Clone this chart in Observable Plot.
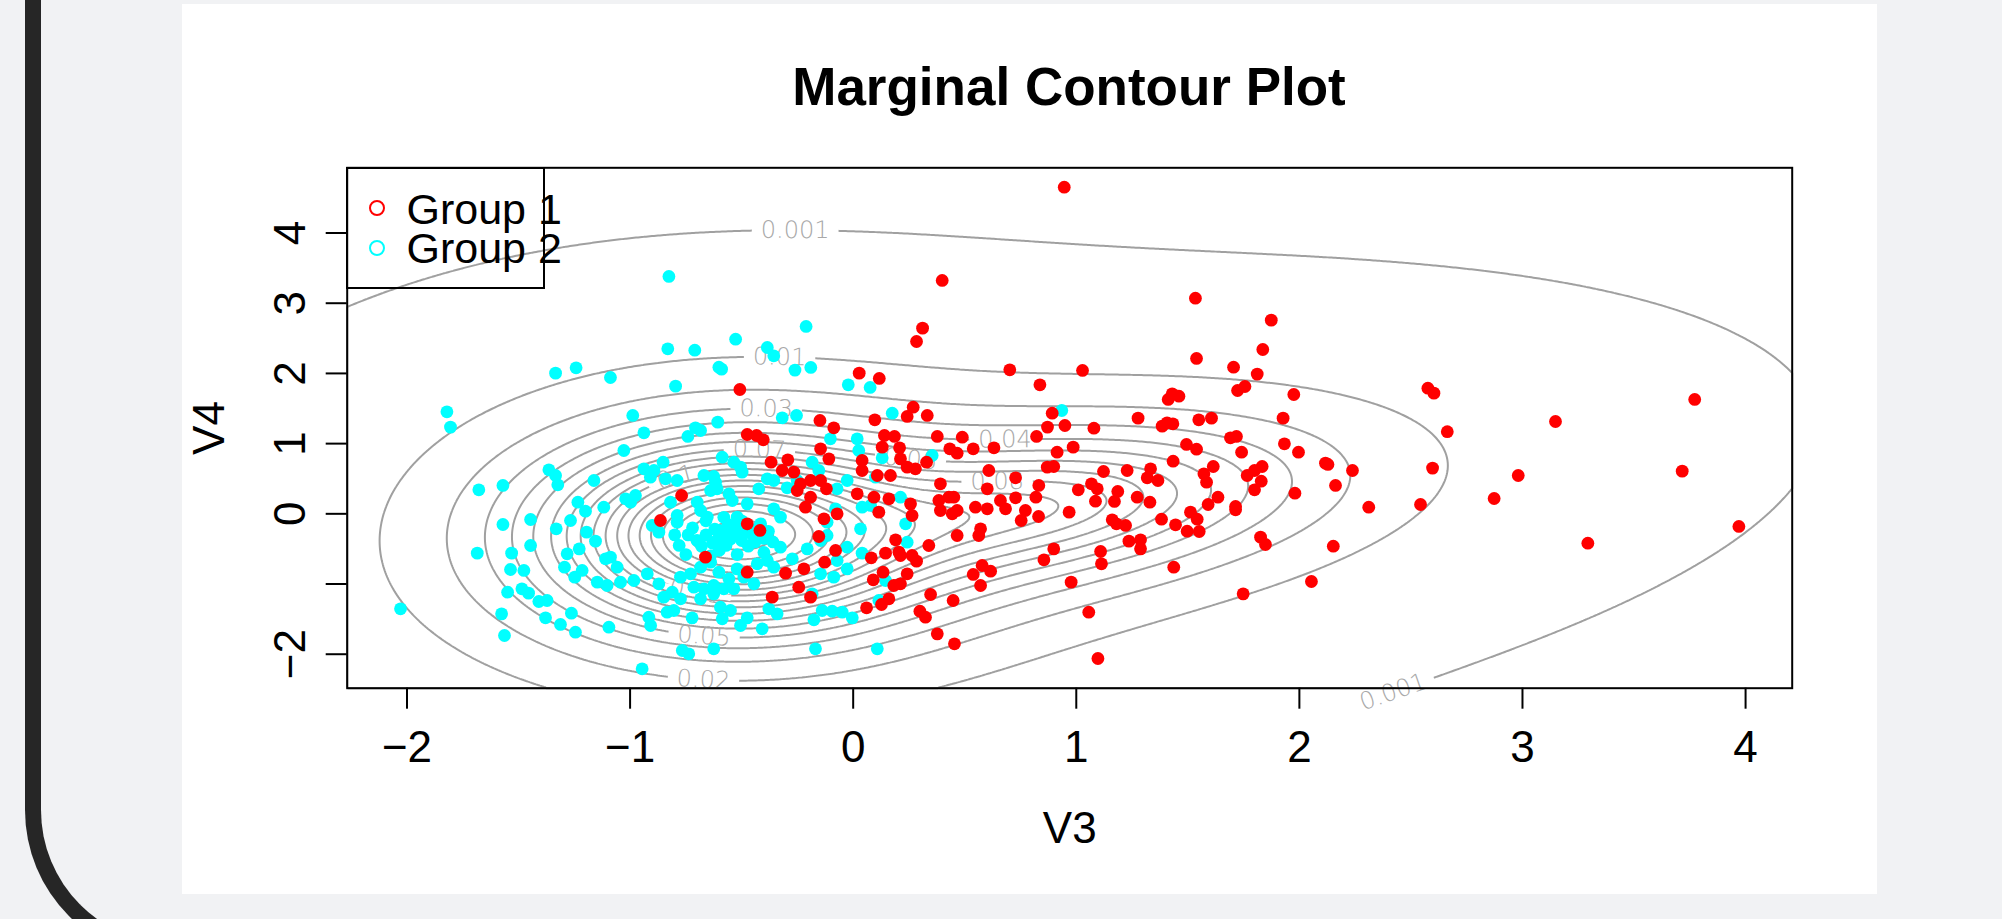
<!DOCTYPE html>
<html>
<head>
<meta charset="utf-8">
<script src="https://cdn.jsdelivr.net/npm/d3@7"></script>
<script src="https://cdn.jsdelivr.net/npm/@observablehq/plot@0.6"></script>
<style>
  html, body { margin:0; padding:0; }
  body { width:2002px; height:919px; background:#f1f2f4; position:relative; overflow:hidden; font-family:"Liberation Sans", Arial, Helvetica, sans-serif; }
  #border { position:absolute; left:25px; top:-200px; width:700px; height:1160px; border-left:16px solid #262626; border-bottom:16px solid #262626; border-bottom-left-radius:150px; box-sizing:border-box; }
  #card { position:absolute; left:182px; top:4px; width:1695px; height:890px; background:#fff; }
  #chart { position:absolute; left:182px; top:4px; }
  #title { position:absolute; left:1069px; top:60px; transform:translateX(-50%); font-size:53px; line-height:53px; font-weight:bold; white-space:nowrap; color:#000; }
  #legbox { position:absolute; left:346px; top:166.5px; width:198.5px; height:122px; border:2px solid #000; box-sizing:border-box; }
  .legdot { position:absolute; width:12px; height:12px; border-radius:50%; border:2px solid; }
  .legtxt { position:absolute; font-size:43px; line-height:36px; height:36px; white-space:nowrap; color:#000; }
</style>
</head>
<body>
<div id="border"></div>
<div id="card"></div>
<div id="chart"></div>
<div id="title">Marginal Contour Plot</div>
<div id="legbox"></div>
<div class="legdot" style="left:368.7px;top:199.7px;border-color:#FF0000"></div>
<div class="legdot" style="left:368.7px;top:240.3px;border-color:#00FFFF"></div>
<div class="legtxt" style="left:406.5px;top:190.5px">Group 1</div>
<div class="legtxt" style="left:406.5px;top:229.5px">Group 2</div>
<script>
// ---------------- data ----------------
const xTicks = [-2, -1, 0, 1, 2, 3, 4];
const xTickLabels = ["−2", "−1", "0", "1", "2", "3", "4"];
const yTicks = [-2, -1, 0, 1, 2, 3, 4];
const yTickLabels = ["−2", "", "0", "1", "2", "3", "4"];
const xDomain = [-2.268, 4.209];
const yDomain = [-2.484, 4.929];

const contourLevels = [0.001, 0.01, 0.02, 0.03, 0.04, 0.05, 0.06, 0.07, 0.08, 0.09, 0.1,
  0.11, 0.12, 0.13, 0.14, 0.15, 0.16, 0.17, 0.18, 0.19, 0.2, 0.21, 0.22, 0.23, 0.24, 0.25];

// fitted two-component t mixture (group 1 = red, group 2 = cyan)
const compWeight = [0.39, 0.61];
const compMeanX = [0.85, -0.55];
const compMeanY = [0.10, -0.30];
const compScaleX = [0.91, 0.60];
const compScaleY = [0.90, 0.97];
const compRho = [0.33, 0.0];
const compDf = [3, 4];

const labelLevel = [0.001, 0.001, 0.01, 0.02, 0.03, 0.04, 0.05, 0.06, 0.07, 0.08, 0.1, 0.11];
const labelHintX = [-0.26, 2.39, -0.33, -0.67, -0.39, 0.68, -0.67, 0.26, -0.42, 0.645, -0.80, -0.71];
const labelHintY = [3.99, -2.27, 2.21, -2.30, 1.50, 1.13, -1.80, 0.90, 0.94, 0.50, 0.57, -1.19];

const group1X = [-0.508,
 0.946,0.399,0.311,0.284,0.027,0.117,0.702,1.028,0.837,1.534,1.539,1.874,1.836,1.705,1.811,1.723,1.756,1.975,1.412,1.430,1.460,1.277,1.549,1.606,1.927,1.385,1.407,1.433,0.892,0.871,0.949,1.079,
 2.576,2.603,3.772,3.148,2.663,
 2.117,2.128,2.238,2.162,2.311,2.597,2.543,2.152,2.981,2.873,3.716,3.293,3.970,
 0.822,0.986,0.914,1.122,0.870,0.899,1.228,1.333,1.318,1.366,1.434,1.494,1.539,1.691,1.718,1.741,1.933,1.996,1.572,1.614,1.584,1.766,1.799,1.833,1.829,1.799,1.980,1.714,1.714,1.635,1.591,1.512,1.542,1.497,1.551,1.382,1.445,1.330,1.273,1.186,1.171,1.161,1.180,1.221,1.236,1.288,1.288,1.109,1.113,1.009,1.068,1.094,1.086,0.968,0.899,0.855,0.977,1.437,1.056,1.097,1.748,1.826,1.848,2.054,0.832,0.819,0.831,0.728,0.728,0.772,0.753,
 -0.475,-0.433,-0.403,-0.368,-0.293,-0.318,-0.266,-0.236,-0.251,-0.769,-0.864,-0.475,-0.418,
 -0.662,-0.475,-0.303,-0.244,-0.363,
 0.269,0.242,0.332,0.097,-0.149,-0.087,0.140,0.185,0.377,0.489,-0.146,0.130,0.208,0.433,0.466,0.538,0.631,0.212,0.242,0.279,0.329,0.040,0.040,-0.109,0.108,0.167,-0.146,-0.191,0.391,-0.120,0.018,-0.191,-0.214,0.093,0.160,0.115,0.257,0.264,0.384,0.391,0.429,0.451,0.466,0.444,0.548,0.601,0.571,0.660,0.683,-0.072,-0.131,0.608,0.601,
 -0.154,0.190,0.264,0.284,0.205,0.212,0.145,0.081,0.339,0.466,0.563,-0.128,-0.079,-0.221,0.134,0.090,0.242,0.182,0.212,0.160,0.127,0.060,-0.191,0.347,0.299,0.324,0.377,0.454,0.448,0.578,0.616,0.538,0.571];
const group1Y = [1.771,
 4.653,3.324,2.645,2.455,2.004,1.928,2.051,2.042,1.838,3.072,2.213,2.759,2.341,2.089,1.990,1.757,1.814,1.700,1.629,1.709,1.676,1.363,1.339,1.363,1.363,1.249,1.296,1.282,1.434,1.235,1.258,1.220,
 1.790,1.719,1.629,1.315,1.170,
 0.722,0.703,0.617,0.404,0.095,0.651,0.133,-0.461,0.546,0.218,0.608,-0.418,-0.180,
 1.102,0.950,0.878,0.603,0.665,0.674,0.617,0.641,0.513,0.475,0.750,0.988,0.921,1.083,1.102,0.878,0.997,0.878,0.570,0.674,0.451,0.546,0.617,0.674,0.465,0.342,0.294,0.104,0.057,0.237,0.133,0.024,-0.076,-0.247,-0.252,-0.076,-0.157,0.166,0.237,0.318,0.176,-0.085,-0.142,-0.166,-0.389,-0.370,-0.499,-0.537,-0.712,0.342,0.427,0.356,0.180,0.024,-0.499,-0.655,-0.973,-0.760,-1.401,-2.061,-1.140,-0.332,-0.437,-0.964,0.404,0.237,-0.038,0.228,0.513,0.047,-0.095,
 1.130,1.116,1.054,0.736,0.769,0.617,0.594,0.427,0.332,0.261,-0.095,-0.142,-0.237,
 -0.617,-0.831,-0.845,-1.045,-1.187,
 1.519,1.387,1.401,1.339,1.330,1.225,1.116,1.102,1.102,1.092,0.926,0.950,0.940,0.926,0.864,0.926,0.940,0.783,0.665,0.641,0.736,0.760,0.617,0.783,0.546,0.546,0.475,0.475,0.427,0.356,0.285,0.237,0.095,0.237,0.214,0.024,0.142,-0.024,0.190,0.047,0.237,0.237,0.047,0.000,0.095,0.071,-0.214,0.190,0.071,0.000,-0.071,0.617,0.356,
 -0.323,-0.370,-0.594,-0.674,-0.546,-0.594,-0.560,-0.627,-0.451,-0.309,-0.309,-0.689,-0.522,-0.783,-0.831,-0.940,-0.855,-1.021,-0.997,-1.211,-1.292,-1.339,-1.187,-1.149,-1.387,-1.472,-1.710,-1.852,-1.235,-0.736,-0.817,-0.864,-1.021];

const group2X = [-0.826,-0.211,-0.527,-0.831,-0.710,-0.385,-0.356,-0.602,-0.590,-0.261,-0.190,-1.334,-1.242,-1.088,-0.796,-1.821,-1.805,
 -0.022,0.076,0.935,
 -2.029,-1.678,-1.570,-1.570,-1.446,-1.685,-1.531,-1.536,-1.476,-1.446,-1.549,-1.485,-1.455,-1.576,-1.563,-1.409,-1.372,-1.379,-1.312,-1.263,-1.245,-1.364,-1.334,-1.324,-1.331,-1.282,-1.294,-1.248,-1.215,-1.234,-1.200,-1.267,-1.195,-1.228,-1.155,-1.162,-1.147,
 -0.938,-1.028,-0.707,-0.684,-0.741,-0.607,-0.318,-0.254,-0.988,-0.852,-0.938,-0.909,-0.893,-0.841,-0.789,-0.587,-0.535,-0.505,-0.498,-0.669,-0.625,-0.617,-0.639,-0.610,-1.020,-0.998,-0.976,-0.819,-0.699,-0.557,-0.542,-0.423,-0.385,-0.356,-0.296,-0.251,-0.475,-0.684,-0.654,-0.789,-0.901,-0.871,-0.520,-0.415,-0.326,-0.356,-1.118,-0.602,-0.565,-0.535,-0.789,
 -1.110,-1.088,-1.058,-1.103,-1.043,-0.983,-0.923,-0.871,-0.849,-0.811,-0.774,-0.729,-0.684,-0.639,-0.602,-0.557,-0.520,-0.490,-0.430,-0.385,-0.356,-0.445,-0.535,-0.625,-0.669,-0.714,-0.774,-0.684,-0.625,-0.580,-0.595,-0.550,-0.834,-0.804,-0.916,-0.908,-0.722,-0.587,-0.505,-0.475,-0.408,-1.095,-0.766,-0.737,-0.625,-0.946,-0.326,-0.273,-0.378,-0.341,
 -0.62,-0.58,-0.53,-0.49,-0.45,-0.66,-0.60,-0.55,-0.50,-0.44,-0.70,-0.63,-0.57,-0.52,-0.47,-0.40,-0.68,-0.74,-0.38,-0.60,
 -0.78,-0.72,-0.66,-0.58,-0.50,-0.42,-0.36,-0.40,-0.52,-0.64,-0.75,-0.80,-0.56,-0.46,-0.62,
 0.175,-0.102,0.018,0.354,0.130,0.025,-0.184,-0.154,-0.027,-0.072,0.100,0.212,0.040,0.078,-0.079,-0.117,0.033,0.235,
 -0.117,-0.146,-0.206,-0.146,-0.087,-0.072,-0.027,-0.027,0.040,-0.184,-0.139,-0.094,-0.049,-0.004,-0.176,-0.169,0.108,0.115,0.145,0.242];
const group2Y = [3.381,2.669,2.488,2.350,2.331,2.369,2.251,2.089,2.061,2.047,2.085,2.004,2.080,1.942,1.819,1.453,1.235,
 1.838,1.800,1.472,
 -1.353,0.342,0.404,-0.152,-0.081,-0.560,-0.560,-0.793,-0.807,-0.451,-1.116,-1.068,-1.130,-1.425,-1.733,-1.249,-1.235,-1.481,-1.576,-1.415,-1.686,0.627,0.546,0.413,-0.214,-0.570,-0.760,-0.902,-0.807,0.166,0.038,-0.095,-0.261,-0.499,-0.389,0.475,-0.973,
 1.154,0.902,1.225,1.187,1.102,1.306,1.368,1.401,1.401,0.736,0.641,0.522,0.617,0.499,0.475,0.807,0.736,0.665,0.594,0.546,0.532,0.451,0.332,0.356,0.214,0.166,0.261,0.166,0.166,0.285,0.190,0.356,0.499,0.475,0.370,0.475,0.142,0.047,-0.047,-0.024,-0.166,-0.261,-0.047,-0.142,-0.047,0.071,0.095,-0.237,-0.285,-0.214,-0.119,
 -0.641,-0.617,-0.760,-1.021,-0.974,-0.950,-0.855,-0.997,-1.187,-1.116,-0.902,-0.855,-0.760,-0.689,-0.831,-0.926,-0.784,-0.902,-0.712,-0.665,-0.760,-0.997,-1.068,-1.021,-1.068,-1.045,-1.211,-1.211,-1.140,-1.068,-1.330,-1.377,-1.401,-1.377,-1.472,-1.591,-1.482,-1.496,-1.591,-1.482,-1.638,-1.615,-1.947,-1.994,-1.923,-2.208,-0.475,-0.641,-1.353,-1.425,
 -0.22,-0.25,-0.20,-0.27,-0.31,-0.30,-0.33,-0.36,-0.38,-0.40,-0.38,-0.42,-0.45,-0.30,-0.46,-0.35,-0.46,-0.30,-0.25,-0.52,
 -0.45,-0.20,-0.10,-0.05,-0.10,-0.18,-0.40,-0.55,-0.58,-0.60,-0.58,-0.30,-0.15,-0.22,-0.40,
 1.434,1.068,1.068,0.831,0.798,0.902,0.736,0.617,0.475,0.356,0.522,0.237,0.095,0.119,0.071,-0.119,-0.214,-0.142,
 -0.309,-0.380,-0.499,-0.855,-0.902,-0.665,-0.784,-0.475,-0.560,-1.140,-1.377,-1.387,-1.401,-1.482,-1.510,-1.923,-1.923,-1.235,-0.950,-0.404];

// ---------------- layout ----------------
const W = 1695, H = 890;
const mL = 164.7, mR = 85.3, mT = 163.3, mB = 206.3;
const kx = (W - mL - mR) / (xDomain[1] - xDomain[0]);
const ky = (H - mT - mB) / (yDomain[1] - yDomain[0]);

// ---------------- model density ----------------
function density(x, y) {
  let s = 0;
  for (let k = 0; k < compWeight.length; k++) {
    const zx = (x - compMeanX[k]) / compScaleX[k];
    const zy = (y - compMeanY[k]) / compScaleY[k];
    const r = compRho[k], nu = compDf[k];
    const q = (zx * zx - 2 * r * zx * zy + zy * zy) / (1 - r * r);
    const det = compScaleX[k] * compScaleY[k] * Math.sqrt(1 - r * r);
    s += compWeight[k] / (2 * Math.PI * det) * Math.pow(1 + q / nu, -(nu + 2) / 2);
  }
  return s;
}

// place contour labels on the contour lines (projection in pixel metric)
const labelFont = 24;
const labels = labelLevel.map((L, i) => {
  let x = labelHintX[i], y = labelHintY[i];
  const h = 1e-4;
  let gx = 0, gy = 0;
  for (let it = 0; it < 40; it++) {
    const f = density(x, y) - L;
    gx = (density(x + h, y) - density(x - h, y)) / (2 * h);
    gy = (density(x, y + h) - density(x, y - h)) / (2 * h);
    const gu = gx / kx, gv = gy / ky;
    const G = gu * gu + gv * gv;
    if (G === 0) break;
    let du = -f * gu / G, dv = -f * gv / G;
    const m = Math.hypot(du, dv);
    if (m > 8) { du *= 8 / m; dv *= 8 / m; }
    x += du / kx; y += dv / ky;
    if (Math.abs(f) < 1e-7) break;
  }
  let ang = Math.atan2(-gx * ky, -gy * kx) * 180 / Math.PI;
  if (ang > 90) ang -= 180;
  if (ang < -90) ang += 180;
  const text = String(L);
  const digits = text.replace(".", "").length;
  const wPx = (digits * 0.636 + 0.318) * labelFont;
  const half = wPx / 2 + 9;
  const c = Math.cos(ang * Math.PI / 180), s = Math.sin(ang * Math.PI / 180);
  return {x, y, text, ang,
    x1: x - half * c / kx, y1: y + half * s / ky,
    x2: x + half * c / kx, y2: y - half * s / ky};
});

const pts1 = group1X.map((x, i) => ({x, y: group1Y[i]}));
const pts2 = group2X.map((x, i) => ({x, y: group2Y[i]}));
const xt = xTicks.map((v, i) => ({v, t: xTickLabels[i]}));
const yt = yTicks.map((v, i) => ({v, t: yTickLabels[i]}));

const chart = Plot.plot({
  width: W, height: H,
  marginLeft: mL, marginRight: mR, marginTop: mT, marginBottom: mB,
  x: {domain: xDomain},
  y: {domain: yDomain},
  style: {background: "transparent", fontFamily: "'Liberation Sans', Arial, Helvetica, sans-serif", color: "#000"},
  marks: [
    Plot.contour(undefined, {value: density, x1: xDomain[0], x2: xDomain[1], y1: yDomain[0], y2: yDomain[1],
      thresholds: contourLevels, stroke: "#a0a0a0", strokeWidth: 2, fill: "none"}),
    Plot.link(labels, {x1: "x1", y1: "y1", x2: "x2", y2: "y2", stroke: "white", strokeWidth: 6}),
    Plot.text(labels, {x: "x", y: "y", text: "text", rotate: "ang", fill: "#a8a8a8", fontSize: labelFont,
      fontFamily: "'DejaVu Sans', sans-serif", fontWeight: 200, textAnchor: "middle", lineAnchor: "middle"}),
    Plot.dot(pts2, {x: "x", y: "y", r: 6.4, fill: "#00FFFF"}),
    Plot.dot(pts1, {x: "x", y: "y", r: 6.4, fill: "#FF0000"}),
    Plot.frame({stroke: "#000", strokeWidth: 2}),
    Plot.axisX({ticks: xTicks, tickSize: 21, tickFormat: () => "", label: null, stroke: "#000", strokeWidth: 2}),
    Plot.axisY({ticks: yTicks, tickSize: 21, tickFormat: () => "", label: null, stroke: "#000", strokeWidth: 2}),
    Plot.text(xt, {x: "v", text: "t", frameAnchor: "bottom", dy: 73.3, lineAnchor: "bottom", fontSize: 44, fill: "#000"}),
    Plot.text(yt, {y: "v", text: "t", frameAnchor: "left", dx: -42.7, rotate: -90, textAnchor: "middle", lineAnchor: "bottom", fontSize: 44, fill: "#000"}),
    Plot.text(["V3"], {frameAnchor: "bottom", dy: 154.3, lineAnchor: "bottom", fontSize: 44, fill: "#000"}),
    Plot.text(["V4"], {frameAnchor: "left", dx: -123.7, rotate: -90, textAnchor: "middle", lineAnchor: "bottom", fontSize: 44, fill: "#000"})
  ]
});
document.getElementById("chart").appendChild(chart);
</script>
</body>
</html>
